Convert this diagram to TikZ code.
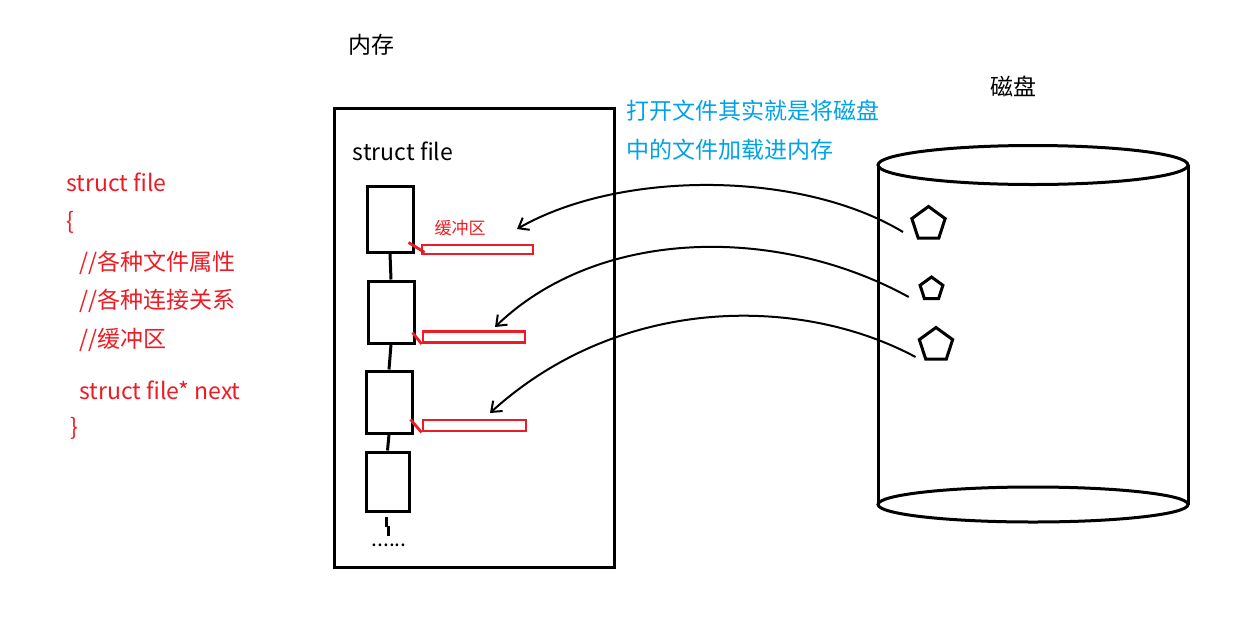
\documentclass[tikz,border=0pt]{standalone}
\usepackage{fontspec}
\setmainfont{Noto Sans CJK SC}
\usetikzlibrary{
  arrows.meta,        % for arrow tips
  shapes.geometric,   % for the pentagons
  positioning
}
\definecolor{paintred}{RGB}{237,28,36}
\definecolor{paintblue}{RGB}{0,162,232}
\tikzstyle{filebox} = [rectangle, draw, line width=3pt, minimum width=46pt, minimum height=62pt, inner sep=0pt]
\tikzstyle{bufbox} = [rectangle, draw=paintred, line width=2.8pt, minimum height=11pt, inner sep=0pt]
\tikzstyle{ptr} = [draw=paintred, line width=2.8pt]
\tikzstyle{datablock} = [regular polygon, regular polygon sides=5, draw, line width=3pt, inner sep=0pt]
\tikzstyle{bigtext} = [font=\fontsize{23}{27}\selectfont, inner sep=0pt]
\tikzstyle{codeline} = [bigtext, text=paintred, anchor=west]
\tikzstyle{loadarrow} = [draw, line width=2pt, -{Straight Barb[length=9pt,width=14pt]}]

\begin{document}
\begin{tikzpicture}[x=1pt,y=-1pt]
\useasboundingbox (0,0) rectangle (1259,622);

% the struct on the left
\node[codeline] (code1) at (66,182) {struct file};
\node[codeline] (code2) at (66,222) {\{};
\node[codeline] (code3) at (79,263) {//各种文件属性};
\node[codeline] (code4) at (79,301) {//各种连接关系};
\node[codeline] (code5) at (79,340) {//缓冲区};
\node[codeline] (code6) at (79,390) {struct file* next};
\node[codeline] (code7) at (70,428) {\}};

% memory
\node[bigtext] (memlbl) at (371,45) {内存};
\node[draw, line width=3pt, minimum width=280pt, minimum height=459pt] (mem) at (474,337.5) {};
\node[bigtext] (structlbl) at (403,151) {struct file};

\node[filebox, minimum height=66pt] (f1) at (390,219) {};
\node[filebox] (f2) at (391,312) {};
\node[filebox] (f3) at (389,402) {};
\node[filebox, minimum width=43pt, minimum height=59pt] (f4) at (387.5,481.5) {};
\draw[line width=3pt] (f1.south) -- (f2.north);
\draw[line width=3pt] (f2.south) -- (f3.north);
\draw[line width=3pt] (f3.south) -- (f4.north);
\draw[line width=3pt] ([shift={(-1,4)}]f4.south) -- ++(0,10);
\draw[line width=3pt] ([shift={(1,13)}]f4.south) -- ++(0,10);
\node[font=\fontsize{21}{23}\selectfont, inner sep=0pt] (dots) at (389,545) {......};

% buffers
\node[bufbox, minimum width=111pt, minimum height=9pt] (b1) at (477.5,249.5) {};
\node[bufbox, minimum width=102pt] (b2) at (474,337) {};
\node[bufbox, minimum width=103pt] (b3) at (474.5,425.5) {};
\node[font=\fontsize{17}{19}\selectfont, text=paintred, inner sep=0pt] (buflbl) at (460,228) {缓冲区};
\draw[ptr] ([shift={(-6,-11)}]f1.south east) -- ([shift={(4,-3)}]b1.south west);
\draw[ptr] ([shift={(-3,-12)}]f2.south east) -- (b2.south west);
\draw[ptr] ([shift={(-3,-15)}]f3.south east) -- (b3.south west);

% note
\node[bigtext, text=paintblue, anchor=west] (note1) at (626,111) {打开文件其实就是将磁盘};
\node[bigtext, text=paintblue, anchor=west] (note2) at (626,150) {中的文件加载进内存};

% disk
\node[bigtext] (disklbl) at (1013,86) {磁盘};
\draw[line width=3pt] (1033,165) ellipse [x radius=155pt, y radius=19.5pt];
\draw[line width=3pt] (878,165) -- (878,504.5);
\draw[line width=3pt] (1188,165) -- (1188,504.5);
\draw[line width=3pt] (1033,504.5) ellipse [x radius=155pt, y radius=17.5pt];

\node[datablock, minimum size=35pt] (p1) at (928.5,224) {};
\node[datablock, minimum size=24pt] (p2) at (931.5,289) {};
\node[datablock, minimum size=35pt] (p3) at (936,345) {};

% loading arrows
\coordinate (a1) at (517,229);
\coordinate (a2) at (495,327);
\coordinate (a3) at (490,413);
\draw[loadarrow] ([shift={(-9,8)}]p1.west) .. controls (800,170) and (620,170) .. (a1);
\draw[loadarrow] ([shift={(-11,8)}]p2.west) .. controls (780,226) and (600,226) .. (a2);
\draw[loadarrow] ([shift={(-4,12)}]p3.west) .. controls (800,295) and (620,295) .. (a3);
\end{tikzpicture}
\end{document}
